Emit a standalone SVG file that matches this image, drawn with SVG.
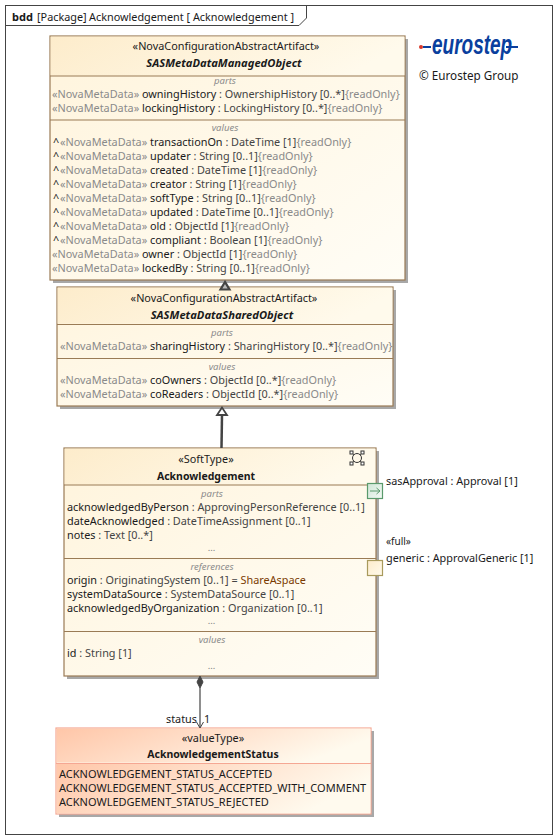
<svg xmlns="http://www.w3.org/2000/svg" width="558" height="839" viewBox="0 0 558 839">
<style>
text{font-family:"Noto Sans","Open Sans","Liberation Sans",sans-serif;font-size:10.85px;fill:#1a1a1a}
.c{text-anchor:middle}
.b{font-weight:700;font-size:10.5px}
.nm{font-weight:700;font-style:italic;font-size:11.2px}
.l{font-style:italic;font-size:9.5px;fill:#8c8c8c;text-anchor:middle}
.g{fill:#8a8a8a}
.t{fill:#444}
.e{font-size:11px}
.box{fill:url(#gb);stroke:#9a7b55;stroke-width:1.2}
.hd{fill:url(#gh)}
.dv{stroke:#9a7b55;stroke-width:1.2;fill:none}
.sh{fill:#a8a8a8}
.cn{stroke:#444;fill:none}
</style>
<defs>
<linearGradient id="gb" x1="0" y1="0" x2="1" y2="1"><stop offset="0" stop-color="#fff4dc"/><stop offset="1" stop-color="#fffdf6"/></linearGradient>
<linearGradient id="gh" x1="0" y1="0" x2="1" y2="0.2"><stop offset="0" stop-color="#fdeccb"/><stop offset="1" stop-color="#fffaec"/></linearGradient>
<linearGradient id="ge" x1="0" y1="0" x2="1" y2="0.3"><stop offset="0" stop-color="#ffc6a8"/><stop offset="1" stop-color="#fffaee"/></linearGradient>
<linearGradient id="gp" x1="0" y1="0" x2="1" y2="1"><stop offset="0" stop-color="#cfe5d6"/><stop offset="1" stop-color="#f4faf5"/></linearGradient>
<linearGradient id="gy" x1="0" y1="0" x2="1" y2="1"><stop offset="0" stop-color="#fdeccb"/><stop offset="1" stop-color="#fffaec"/></linearGradient>
</defs>
<rect width="558" height="839" fill="#fff"/>
<g id="frame">
<rect x="5.5" y="5.5" width="547" height="829" fill="#fff" stroke="#444"/>
<path d="M5.5 25.5H299L306.500 18V5.500" fill="none" stroke="#444"/>
<text x="12" y="21" class="b" style="font-size:11px">bdd</text>
<text x="37" y="21">[Package]</text>
<text x="89" y="21">Acknowledgement [ Acknowledgement ]</text>
</g>
<g id="logo">
<path d="M423 47H431M506 47H518" stroke="#0a3f9e" stroke-width="1.800" fill="none"/>
<circle cx="421" cy="47" r="2" fill="#d9382a"/>
<text transform="translate(432 54) scale(1 1.450)" style="font-family:'Liberation Sans',sans-serif;font-size:19px;font-weight:700;font-style:italic;fill:#0a3f9e">eurostep</text>
<text x="419" y="80" style="font-size:11.700px">© Eurostep Group</text>
</g>
<g id="SASMetaDataManagedObject">
<rect class="sh" x="53" y="39" width="355" height="244"/>
<rect class="box" x="50" y="36" width="355" height="244"/>
<rect class="hd" x="50.600" y="36.600" width="353.800" height="39"/>
<path class="dv" d="M50 76H405M50 120H405"/>
<text x="226" y="50" class="c">«NovaConfigurationAbstractArtifact»</text>
<text x="224" y="67" class="c nm">SASMetaDataManagedObject</text>
<text x="225" y="84" class="l">parts</text>
<text x="52" y="98"><tspan class="g">«NovaMetaData» </tspan>owningHistory<tspan class="t"> : OwnershipHistory [0..*]</tspan><tspan class="g">{readOnly}</tspan></text>
<text x="52" y="112"><tspan class="g">«NovaMetaData» </tspan>lockingHistory<tspan class="t"> : LockingHistory [0..*]</tspan><tspan class="g">{readOnly}</tspan></text>
<text x="225" y="131" class="l">values</text>
<text x="53" y="146">^<tspan x="60" class="g">«NovaMetaData» </tspan>transactionOn<tspan class="t"> : DateTime [1]</tspan><tspan class="g">{readOnly}</tspan></text>
<text x="53" y="160">^<tspan x="60" class="g">«NovaMetaData» </tspan>updater<tspan class="t"> : String [0..1]</tspan><tspan class="g">{readOnly}</tspan></text>
<text x="53" y="174">^<tspan x="60" class="g">«NovaMetaData» </tspan>created<tspan class="t"> : DateTime [1]</tspan><tspan class="g">{readOnly}</tspan></text>
<text x="53" y="188">^<tspan x="60" class="g">«NovaMetaData» </tspan>creator<tspan class="t"> : String [1]</tspan><tspan class="g">{readOnly}</tspan></text>
<text x="53" y="202">^<tspan x="60" class="g">«NovaMetaData» </tspan>softType<tspan class="t"> : String [0..1]</tspan><tspan class="g">{readOnly}</tspan></text>
<text x="53" y="216">^<tspan x="60" class="g">«NovaMetaData» </tspan>updated<tspan class="t"> : DateTime [0..1]</tspan><tspan class="g">{readOnly}</tspan></text>
<text x="53" y="230">^<tspan x="60" class="g">«NovaMetaData» </tspan>old<tspan class="t"> : ObjectId [1]</tspan><tspan class="g">{readOnly}</tspan></text>
<text x="53" y="244">^<tspan x="60" class="g">«NovaMetaData» </tspan>compliant<tspan class="t"> : Boolean [1]</tspan><tspan class="g">{readOnly}</tspan></text>
<text x="52" y="258"><tspan class="g">«NovaMetaData» </tspan>owner<tspan class="t"> : ObjectId [1]</tspan><tspan class="g">{readOnly}</tspan></text>
<text x="52" y="272"><tspan class="g">«NovaMetaData» </tspan>lockedBy<tspan class="t"> : String [0..1]</tspan><tspan class="g">{readOnly}</tspan></text>
</g>
<g id="SASMetaDataSharedObject">
<rect class="sh" x="60" y="290" width="336" height="119"/>
<rect class="box" x="57" y="287" width="336" height="119"/>
<rect class="hd" x="57.600" y="287.600" width="334.800" height="36"/>
<path class="dv" d="M57 324.500H393M57 358.500H393"/>
<text x="224" y="302" class="c">«NovaConfigurationAbstractArtifact»</text>
<text x="222" y="319" class="c nm">SASMetaDataSharedObject</text>
<text x="222" y="336" class="l">parts</text>
<text x="60" y="350"><tspan class="g">«NovaMetaData» </tspan>sharingHistory<tspan class="t"> : SharingHistory [0..*]</tspan><tspan class="g">{readOnly}</tspan></text>
<text x="222" y="370" class="l">values</text>
<text x="60" y="384"><tspan class="g">«NovaMetaData» </tspan>coOwners<tspan class="t"> : ObjectId [0..*]</tspan><tspan class="g">{readOnly}</tspan></text>
<text x="60" y="398"><tspan class="g">«NovaMetaData» </tspan>coReaders<tspan class="t"> : ObjectId [0..*]</tspan><tspan class="g">{readOnly}</tspan></text>
</g>
<g id="Acknowledgement">
<rect class="sh" x="67" y="451" width="312" height="228"/>
<rect class="box" x="64" y="448" width="312" height="228"/>
<rect class="hd" x="64.600" y="448.600" width="310.800" height="36"/>
<path class="dv" d="M64 485H376M64 558.500H376M64 631.500H376"/>
<g fill="none" stroke="#333">
<path d="M352 453L362 463M362 453L352 463" stroke-width=".8"/>
<circle cx="357" cy="458" r="4.500" fill="#fff8e8"/>
<rect x="350" y="451" width="3" height="3" fill="#fff"/><rect x="361" y="451" width="3" height="3" fill="#fff"/><rect x="350" y="462" width="3" height="3" fill="#fff"/><rect x="361" y="462" width="3" height="3" fill="#fff"/>
</g>
<text x="206" y="463" class="c">«SoftType»</text>
<text x="206" y="480" class="c b">Acknowledgement</text>
<text x="212" y="497" class="l">parts</text>
<text x="67" y="511">acknowledgedByPerson<tspan class="t"> : ApprovingPersonReference [0..1]</tspan></text>
<text x="67" y="525">dateAcknowledged<tspan class="t"> : DateTimeAssignment [0..1]</tspan></text>
<text x="67" y="539">notes<tspan class="t"> : Text [0..*]</tspan></text>
<text x="212" y="551" class="l">...</text>
<text x="212" y="570" class="l">references</text>
<text x="67" y="584">origin<tspan class="t"> : OriginatingSystem [0..1] = </tspan><tspan fill="#7a3a00">ShareAspace</tspan></text>
<text x="67" y="598">systemDataSource<tspan class="t"> : SystemDataSource [0..1]</tspan></text>
<text x="67" y="612">acknowledgedByOrganization<tspan class="t"> : Organization [0..1]</tspan></text>
<text x="212" y="624" class="l">...</text>
<text x="212" y="643" class="l">values</text>
<text x="67" y="657">id<tspan class="t"> : String [1]</tspan></text>
<text x="212" y="669" class="l">...</text>
</g>
<g id="sasApproval">
<rect x="367.500" y="483.500" width="15" height="15" fill="url(#gp)" stroke="#5a9a6c" stroke-width="1.200"/>
<path d="M370 491H380M376.500 488L380 491L376.500 494" fill="none" stroke="#5a9a6c"/>
<text x="386" y="485">sasApproval : Approval [1]</text>
</g>
<g id="generic">
<rect x="367.500" y="560.500" width="15" height="15" fill="url(#gy)" stroke="#a89a5c" stroke-width="1.200"/>
<text x="386" y="545" style="font-size:10px">«full»</text>
<text x="386" y="562">generic : ApprovalGeneric [1]</text>
</g>
<g id="AcknowledgementStatus">
<rect class="sh" x="59" y="731" width="315" height="86"/>
<rect x="56" y="728" width="315" height="86" fill="#fffbf0" stroke="#f5a793" stroke-width="1.200"/>
<rect x="56.600" y="728.600" width="313.800" height="34" fill="url(#ge)"/>
<rect x="56.600" y="763" width="313.800" height="50.400" fill="url(#ge)"/>
<path d="M56 763.500H371" stroke="#f5a793" stroke-width="1.200" fill="none"/>
<text x="213" y="742" class="c">«valueType»</text>
<text x="213" y="758" class="c b">AcknowledgementStatus</text>
<text x="59" y="778" class="e">ACKNOWLEDGEMENT_STATUS_ACCEPTED</text>
<text x="59" y="792" class="e">ACKNOWLEDGEMENT_STATUS_ACCEPTED_WITH_COMMENT</text>
<text x="59" y="806" class="e">ACKNOWLEDGEMENT_STATUS_REJECTED</text>
</g>
<g id="connectors">
<path d="M225 282L220.500 289.500H229.500Z" fill="#bbb" stroke="#444" stroke-width="2.200"/>
<path d="M222 415L221.500 448" class="cn" stroke-width="2.500"/>
<path d="M222 407.500L217 415H227Z" fill="#fff" stroke="#444" stroke-width="1.800"/>
<path d="M200 676L203 682L200 688L197 682Z" fill="#444" stroke="#444"/>
<path d="M200 688V727.500" class="cn" stroke-width="1.200"/>
<path d="M196.500 722L200 728L203.500 722" class="cn"/>
<text x="166" y="723">status</text>
<text x="204" y="723">1</text>
</g>
</svg>
